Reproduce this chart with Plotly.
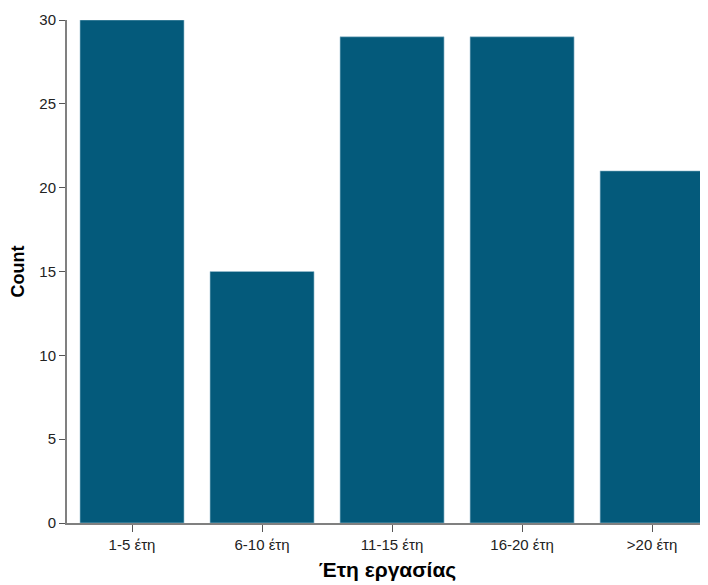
import plotly.graph_objects as go

categories = ["1-5 έτη", "6-10 έτη", "11-15 έτη", "16-20 έτη", ">20 έτη"]
counts = [30, 15, 29, 29, 21]
y_ticks = [0, 5, 10, 15, 20, 25, 30]

fig = go.Figure(go.Bar(
    x=list(range(len(categories))),
    y=counts,
    width=0.8,
    marker=dict(color="#045A7B", line=dict(color="#9fc3d3", width=0.6)),
))

fig.update_layout(
    width=700, height=577,
    margin=dict(l=59, r=0, t=12, b=62),
    paper_bgcolor="white", plot_bgcolor="white",
    font=dict(family="Arial, Liberation Sans, sans-serif", color="#222"),
    showlegend=False,
    xaxis=dict(
        range=[-0.5, 4.43], automargin=False,
        tickmode="array", tickvals=list(range(len(categories))), ticktext=categories,
        showgrid=False, zeroline=False,
        showline=True, linecolor="#808080", linewidth=2,
        ticks="outside", ticklen=7, tickcolor="#555", tickwidth=1.3,
        tickfont=dict(size=15, color="#222"),
        title=dict(text="<b>Έτη εργασίας</b>", font=dict(size=21, color="black"), standoff=10),
    ),
    yaxis=dict(
        range=[0, 30], automargin=False,
        tickmode="array", tickvals=y_ticks,
        showgrid=False, zeroline=False,
        showline=True, linecolor="#808080", linewidth=2,
        ticks="outside", ticklen=6, tickcolor="#555", tickwidth=1.3,
        tickfont=dict(size=15, color="#222"),
        title=dict(text="<b>Count</b>", font=dict(size=18, color="black"), standoff=10),
    ),
)

fig.write_html("out.html")
